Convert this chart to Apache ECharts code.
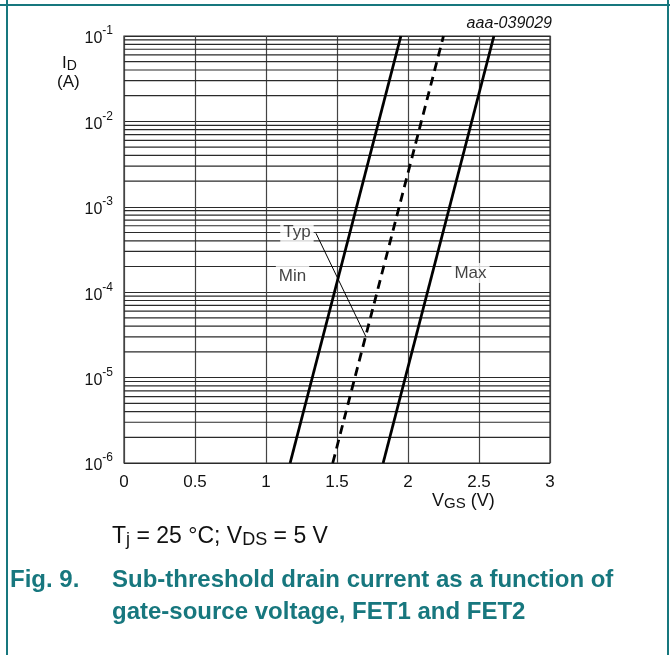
<!DOCTYPE html>
<html><head><meta charset="utf-8">
<script src="https://cdn.jsdelivr.net/npm/echarts@6/dist/echarts.min.js"></script>
<style>html,body{margin:0;padding:0;background:#fff}#c{width:670px;height:655px}</style>
</head><body><div id="c"></div>
<script>
// ---- data ----
const xTicks = [0, 0.5, 1, 1.5, 2, 2.5, 3];
const yDecades = [1e-6, 1e-5, 1e-4, 1e-3, 1e-2, 1e-1];
const minVgs = [1.17, 1.95];
const minId  = [1e-6, 1e-1];
const typVgs = [1.47, 2.25];
const typId  = [1e-6, 1e-1];
const maxVgs = [1.825, 2.605];
const maxId  = [1e-6, 1e-1];
const curveLabels = ['Typ', 'Min', 'Max'];
const labelVgs = [1.218, 1.187, 2.44];
const labelId  = [5.0e-4, 1.55e-4, 1.68e-4];
const leaderVgs = [1.352, 1.704];
const leaderId  = [4.9e-4, 3.0e-5];
const minorMultipliers = [2, 3, 4, 5, 6, 7, 8, 9];

const TEAL = '#17777e';
const FONT = 'Liberation Sans, Arial, sans-serif';
const chart = echarts.init(document.getElementById('c'), null, { renderer: 'canvas' });

const curveStyle = { color: '#000', width: 2.8 };

// minor log grid lines drawn as horizontal line series through the axes
const minorSeries = [];
yDecades.slice(0, -1).forEach(d => minorMultipliers.forEach(m => {
  const v = m * d;
  minorSeries.push({ type: 'line', symbol: 'none', silent: true, z: 1,
    data: [[xTicks[0], v], [xTicks[xTicks.length - 1], v]],
    lineStyle: { color: '#2a2a2a', width: 1.2 } });
}));

chart.setOption({
  animation: false,
  backgroundColor: '#fff',
  grid: { left: 124, top: 36, width: 426, height: 427, show: true, borderColor: '#2a2a2a', borderWidth: 1.2, backgroundColor: 'transparent' },
  xAxis: {
    type: 'value', min: 0, max: 3, interval: 0.5,
    axisLine: { show: false }, axisTick: { show: false },
    splitLine: { show: true, lineStyle: { color: '#444', width: 1.2 } },
    axisLabel: { margin: 11, fontSize: 17, color: '#111', fontFamily: FONT,
      formatter: v => { const t = xTicks.find(x => Math.abs(x - v) < 1e-9); return t === undefined ? '' : String(t); } }
  },
  yAxis: {
    type: 'log', logBase: 10, min: yDecades[0], max: yDecades[yDecades.length - 1],
    axisLine: { show: false }, axisTick: { show: false },
    splitLine: { show: true, lineStyle: { color: '#2a2a2a', width: 1.2 } },
    axisLabel: {
      margin: 11, fontFamily: FONT, color: '#111',
      formatter: v => '{b|10}{s|' + Math.round(Math.log10(v)) + '}',
      rich: {
        b: { fontSize: 16, fontFamily: FONT, color: '#111', lineHeight: 22, verticalAlign: 'bottom' },
        s: { fontSize: 12, fontFamily: FONT, color: '#111', lineHeight: 22, verticalAlign: 'top', padding: [0, 0, 9, 0] }
      }
    }
  },
  series: minorSeries.concat([
    { name: 'Min', type: 'line', symbol: 'none', data: minVgs.map((v, i) => [v, minId[i]]), lineStyle: curveStyle, z: 5 },
    { name: 'Typ', type: 'line', symbol: 'none', data: typVgs.map((v, i) => [v, typId[i]]), lineStyle: Object.assign({}, curveStyle, { type: [9, 6] }), z: 5 },
    { name: 'Max', type: 'line', symbol: 'none', data: maxVgs.map((v, i) => [v, maxId[i]]), lineStyle: curveStyle, z: 5 },
    { name: 'leader', type: 'line', symbol: 'none', data: leaderVgs.map((v, i) => [v, leaderId[i]]), lineStyle: { color: '#000', width: 1 }, z: 6 },
    { name: 'labels', type: 'scatter', symbolSize: 0, z: 7,
      data: curveLabels.map((t, i) => ({ value: [labelVgs[i], labelId[i]], name: t })),
      label: { show: true, position: 'inside', formatter: p => p.name, fontSize: 17, fontFamily: FONT, color: '#111',
        backgroundColor: '#fff', padding: [2, 3, 1, 3] } }
  ]),
  graphic: [
    { type: 'rect', shape: { x: 0, y: 4, width: 670, height: 2 }, style: { fill: TEAL } },
    { type: 'rect', shape: { x: 6, y: 0, width: 2, height: 655 }, style: { fill: TEAL } },
    { type: 'rect', shape: { x: 667, y: 0, width: 2, height: 655 }, style: { fill: TEAL } },
    { type: 'text', right: 118, top: 16, style: { text: 'aaa-039029', font: 'italic 16px ' + FONT, fill: '#111' } },
    { type: 'text', left: 62, top: 52, style: { text: '{m|I}{d|D}', rich: { m: { fontSize: 17, fontFamily: FONT, fill: '#111', lineHeight: 18, verticalAlign: 'top' }, d: { fontSize: 14, fontFamily: FONT, fill: '#111', lineHeight: 18, verticalAlign: 'bottom', padding: [7, 0, 0, 0] } } } },
    { type: 'text', left: 57, top: 74, style: { text: '(A)', font: '17px ' + FONT, fill: '#111' } },
    { type: 'text', left: 432, top: 489, style: { text: '{m|V}{d|GS}{m| (V)}', rich: { m: { fontSize: 18, fontFamily: FONT, fill: '#111', lineHeight: 19, verticalAlign: 'top' }, d: { fontSize: 15, fontFamily: FONT, fill: '#111', lineHeight: 19, verticalAlign: 'bottom', padding: [7, 0, 0, 0] } } } },
    { type: 'text', left: 112, top: 522, style: { text: '{m|T}{d|j}{m| = 25 °C; V}{d|DS}{m| = 5 V}', rich: { m: { fontSize: 23, fontFamily: FONT, fill: '#111', lineHeight: 24, verticalAlign: 'top' }, d: { fontSize: 18, fontFamily: FONT, fill: '#111', lineHeight: 24, verticalAlign: 'bottom', padding: [9, 0, 0, 0] } } } },
    { type: 'text', left: 10, top: 568, style: { text: 'Fig. 9.', font: 'bold 24px ' + FONT, fill: TEAL } },
    { type: 'text', left: 112, top: 564, style: { text: 'Sub-threshold drain current as a function of\ngate-source voltage, FET1 and FET2', font: 'bold 24px ' + FONT, fill: TEAL, lineHeight: 32 } }
  ]
});
</script></body></html>
